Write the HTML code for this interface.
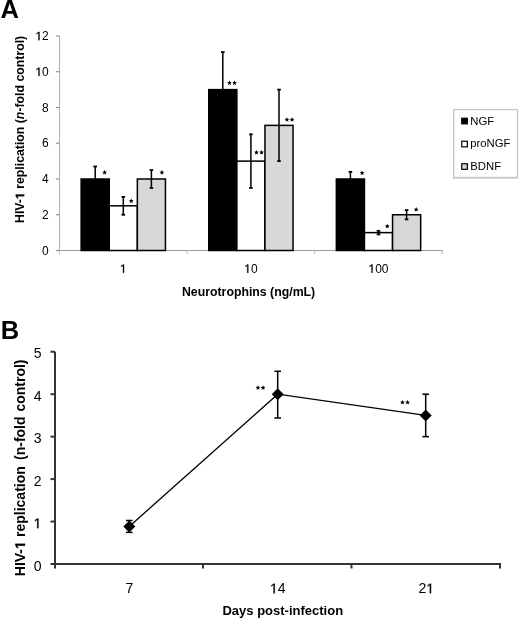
<!DOCTYPE html>
<html><head><meta charset="utf-8"><style>
html,body{margin:0;padding:0;background:#fff;}
body{width:520px;height:621px;overflow:hidden;position:relative;filter:grayscale(1);}
svg{position:absolute;left:0;top:0;}
text{font-family:"Liberation Sans",sans-serif;fill:#000;white-space:pre;}
.lab{font-size:25.5px;font-weight:bold;}
.tA{font-size:12px;}
.tB{font-size:14px;}
.alA{font-size:12.3px;font-weight:bold;}
.alB{font-size:13px;font-weight:bold;}
.alB2{font-size:14px;font-weight:bold;}
.lg{font-size:11.3px;}
.axB{stroke:#333;stroke-width:2;}
.eb{stroke:#000;stroke-width:1.5;}
.cap{stroke:#000;stroke-width:1.8;}
.capB{stroke:#000;stroke-width:1.5;}
</style></head><body>
<svg width="520" height="621" viewBox="0 0 520 621">
<text id="t0" x="0.5" y="18" class="lab" text-anchor="start">A</text>
<line x1="59.5" y1="36" x2="59.5" y2="251" stroke="#b0b0b0" stroke-width="1"/>
<line x1="56" y1="250.5" x2="59.5" y2="250.5" stroke="#8a8a8a" stroke-width="1.1"/>
<text id="t1" x="48.8" y="254.7" class="tA" text-anchor="end">0</text>
<line x1="56" y1="214.75" x2="59.5" y2="214.75" stroke="#8a8a8a" stroke-width="1.1"/>
<text id="t2" x="48.8" y="218.95" class="tA" text-anchor="end">2</text>
<line x1="56" y1="179" x2="59.5" y2="179" stroke="#8a8a8a" stroke-width="1.1"/>
<text id="t3" x="48.8" y="183.2" class="tA" text-anchor="end">4</text>
<line x1="56" y1="143.25" x2="59.5" y2="143.25" stroke="#8a8a8a" stroke-width="1.1"/>
<text id="t4" x="48.8" y="147.45" class="tA" text-anchor="end">6</text>
<line x1="56" y1="107.5" x2="59.5" y2="107.5" stroke="#8a8a8a" stroke-width="1.1"/>
<text id="t5" x="48.8" y="111.7" class="tA" text-anchor="end">8</text>
<line x1="56" y1="71.75" x2="59.5" y2="71.75" stroke="#8a8a8a" stroke-width="1.1"/>
<text id="t6" x="48.8" y="75.95" class="tA" text-anchor="end"> 0</text><path d="M38.46,75.95 L38.46,68.7 L36.59,70.03 L36.59,69.04 L38.55,67.69 L39.52,67.69 L39.52,75.95Z" stroke="#000" stroke-width="0.3"/>
<line x1="56" y1="36" x2="59.5" y2="36" stroke="#8a8a8a" stroke-width="1.1"/>
<text id="t7" x="48.8" y="40.2" class="tA" text-anchor="end"> 2</text><path d="M38.46,40.2 L38.46,32.95 L36.59,34.28 L36.59,33.29 L38.55,31.94 L39.52,31.94 L39.52,40.2Z" stroke="#000" stroke-width="0.3"/>
<line x1="59.0" y1="250.5" x2="442.8" y2="250.5" stroke="#9a9a9a" stroke-width="1"/>
<line x1="59.5" y1="250.5" x2="59.5" y2="254" stroke="#b8b8b8" stroke-width="1"/>
<line x1="187.1" y1="250.5" x2="187.1" y2="254" stroke="#b8b8b8" stroke-width="1"/>
<line x1="314.7" y1="250.5" x2="314.7" y2="254" stroke="#b8b8b8" stroke-width="1"/>
<line x1="442.3" y1="250.5" x2="442.3" y2="254" stroke="#b8b8b8" stroke-width="1"/>
<text id="t8" x="123.3" y="272.8" class="tA" text-anchor="middle"> </text><path d="M122.97,272.8 L122.97,265.55 L121.11,266.88 L121.11,265.89 L123.06,264.54 L124.03,264.54 L124.03,272.8Z" stroke="#000" stroke-width="0.3"/>
<text id="t9" x="250.9" y="272.8" class="tA" text-anchor="middle"> 0</text><path d="M247.24,272.8 L247.24,265.55 L245.37,266.88 L245.37,265.89 L247.33,264.54 L248.3,264.54 L248.3,272.8Z" stroke="#000" stroke-width="0.3"/>
<text id="t10" x="378.5" y="272.8" class="tA" text-anchor="middle"> 00</text><path d="M371.5,272.8 L371.5,265.55 L369.64,266.88 L369.64,265.89 L371.59,264.54 L372.56,264.54 L372.56,272.8Z" stroke="#000" stroke-width="0.3"/>
<rect x="81.15" y="179" width="28.1" height="71.5" fill="#000" stroke="#000" stroke-width="1.5"/>
<rect x="109.25" y="205.81" width="28.1" height="44.69" fill="#fff" stroke="#000" stroke-width="1.5"/>
<rect x="137.35" y="179" width="28.1" height="71.5" fill="#d8d8d8" stroke="#000" stroke-width="1.5"/>
<rect x="208.75" y="89.62" width="28.1" height="160.88" fill="#000" stroke="#000" stroke-width="1.5"/>
<rect x="236.85" y="161.12" width="28.1" height="89.38" fill="#fff" stroke="#000" stroke-width="1.5"/>
<rect x="264.95" y="125.38" width="28.1" height="125.12" fill="#d8d8d8" stroke="#000" stroke-width="1.5"/>
<rect x="336.35" y="179" width="28.1" height="71.5" fill="#000" stroke="#000" stroke-width="1.5"/>
<rect x="364.45" y="232.62" width="28.1" height="17.88" fill="#fff" stroke="#000" stroke-width="1.5"/>
<rect x="392.55" y="214.75" width="28.1" height="35.75" fill="#d8d8d8" stroke="#000" stroke-width="1.5"/>
<line x1="95.2" y1="166.49" x2="95.2" y2="191.51" class="eb"/>
<line x1="93.4" y1="166.49" x2="97" y2="166.49" class="cap"/>
<line x1="93.4" y1="191.51" x2="97" y2="191.51" class="cap"/>
<line x1="123.3" y1="196.88" x2="123.3" y2="214.75" class="eb"/>
<line x1="121.5" y1="196.88" x2="125.1" y2="196.88" class="cap"/>
<line x1="121.5" y1="214.75" x2="125.1" y2="214.75" class="cap"/>
<line x1="151.4" y1="170.06" x2="151.4" y2="187.94" class="eb"/>
<line x1="149.6" y1="170.06" x2="153.2" y2="170.06" class="cap"/>
<line x1="149.6" y1="187.94" x2="153.2" y2="187.94" class="cap"/>
<line x1="222.8" y1="52.09" x2="222.8" y2="127.16" class="eb"/>
<line x1="221" y1="52.09" x2="224.6" y2="52.09" class="cap"/>
<line x1="221" y1="127.16" x2="224.6" y2="127.16" class="cap"/>
<line x1="250.9" y1="134.31" x2="250.9" y2="187.94" class="eb"/>
<line x1="249.1" y1="134.31" x2="252.7" y2="134.31" class="cap"/>
<line x1="249.1" y1="187.94" x2="252.7" y2="187.94" class="cap"/>
<line x1="279" y1="89.62" x2="279" y2="161.12" class="eb"/>
<line x1="277.2" y1="89.62" x2="280.8" y2="89.62" class="cap"/>
<line x1="277.2" y1="161.12" x2="280.8" y2="161.12" class="cap"/>
<line x1="350.4" y1="171.85" x2="350.4" y2="186.15" class="eb"/>
<line x1="348.6" y1="171.85" x2="352.2" y2="171.85" class="cap"/>
<line x1="348.6" y1="186.15" x2="352.2" y2="186.15" class="cap"/>
<line x1="378.5" y1="230.84" x2="378.5" y2="234.41" class="eb"/>
<line x1="376.7" y1="230.84" x2="380.3" y2="230.84" class="cap"/>
<line x1="376.7" y1="234.41" x2="380.3" y2="234.41" class="cap"/>
<line x1="406.6" y1="210.1" x2="406.6" y2="219.4" class="eb"/>
<line x1="404.8" y1="210.1" x2="408.4" y2="210.1" class="cap"/>
<line x1="404.8" y1="219.4" x2="408.4" y2="219.4" class="cap"/>
<polygon points="104.6,170 105.28,171.57 106.98,171.73 105.69,172.86 106.07,174.52 104.6,173.65 103.13,174.52 103.51,172.86 102.22,171.73 103.92,171.57" fill="#000"/>
<polygon points="131.25,198.5 131.93,200.07 133.63,200.23 132.34,201.36 132.72,203.02 131.25,202.15 129.78,203.02 130.16,201.36 128.87,200.23 130.57,200.07" fill="#000"/>
<polygon points="161.9,170 162.58,171.57 164.28,171.73 162.99,172.86 163.37,174.52 161.9,173.65 160.43,174.52 160.81,172.86 159.52,171.73 161.22,171.57" fill="#000"/>
<polygon points="229.45,80.5 230.13,82.07 231.83,82.23 230.54,83.36 230.92,85.02 229.45,84.15 227.98,85.02 228.36,83.36 227.07,82.23 228.77,82.07" fill="#000"/>
<polygon points="234.55,80.5 235.23,82.07 236.93,82.23 235.64,83.36 236.02,85.02 234.55,84.15 233.08,85.02 233.46,83.36 232.17,82.23 233.87,82.07" fill="#000"/>
<polygon points="256.45,150 257.13,151.57 258.83,151.73 257.54,152.86 257.92,154.52 256.45,153.65 254.98,154.52 255.36,152.86 254.07,151.73 255.77,151.57" fill="#000"/>
<polygon points="261.55,150 262.23,151.57 263.93,151.73 262.64,152.86 263.02,154.52 261.55,153.65 260.08,154.52 260.46,152.86 259.17,151.73 260.87,151.57" fill="#000"/>
<polygon points="286.95,117.2 287.63,118.77 289.33,118.93 288.04,120.06 288.42,121.72 286.95,120.85 285.48,121.72 285.86,120.06 284.57,118.93 286.27,118.77" fill="#000"/>
<polygon points="292.05,117.2 292.73,118.77 294.43,118.93 293.14,120.06 293.52,121.72 292.05,120.85 290.58,121.72 290.96,120.06 289.67,118.93 291.37,118.77" fill="#000"/>
<polygon points="362.1,170.5 362.78,172.07 364.48,172.23 363.19,173.36 363.57,175.02 362.1,174.15 360.63,175.02 361.01,173.36 359.72,172.23 361.42,172.07" fill="#000"/>
<polygon points="387.3,223.8 387.98,225.37 389.68,225.53 388.39,226.66 388.77,228.32 387.3,227.45 385.83,228.32 386.21,226.66 384.92,225.53 386.62,225.37" fill="#000"/>
<polygon points="416.2,207.1 416.88,208.67 418.58,208.83 417.29,209.96 417.67,211.62 416.2,210.75 414.73,211.62 415.11,209.96 413.82,208.83 415.52,208.67" fill="#000"/>
<polygon points="257.95,385.3 258.63,386.87 260.33,387.03 259.04,388.16 259.42,389.82 257.95,388.95 256.48,389.82 256.86,388.16 255.57,387.03 257.27,386.87" fill="#000"/>
<polygon points="263.05,385.3 263.73,386.87 265.43,387.03 264.14,388.16 264.52,389.82 263.05,388.95 261.58,389.82 261.96,388.16 260.67,387.03 262.37,386.87" fill="#000"/>
<polygon points="402.45,399.9 403.13,401.47 404.83,401.63 403.54,402.76 403.92,404.42 402.45,403.55 400.98,404.42 401.36,402.76 400.07,401.63 401.77,401.47" fill="#000"/>
<polygon points="407.55,399.9 408.23,401.47 409.93,401.63 408.64,402.76 409.02,404.42 407.55,403.55 406.08,404.42 406.46,402.76 405.17,401.63 406.87,401.47" fill="#000"/>
<g transform="translate(24.2,129.4) rotate(-90)"><text id="t11" x="0" y="0" class="alA" text-anchor="middle">HIV-  replication (<tspan font-style="italic">n</tspan>-fold control)</text><path d="M-66.82,0 L-66.82,-7.03 L-68.85,-5.76 L-68.85,-7.09 L-66.73,-8.46 L-65.14,-8.46 L-65.14,0Z" stroke="#000" stroke-width="0.3"/></g>
<text id="t12" x="248.6" y="296.2" class="alA" text-anchor="middle">Neurotrophins (ng/mL)</text>
<rect x="453.7" y="109.6" width="63.8" height="67.9" fill="#fff" stroke="#c4c4c4" stroke-width="1.3"/>
<line x1="453" y1="178.3" x2="518.4" y2="178.3" stroke="#d4d4d4" stroke-width="1"/>
<rect x="461.75" y="118.25" width="5.6" height="5.6" fill="#000" stroke="#000" stroke-width="1.2"/>
<text id="t13" x="470.3" y="124.5" class="lg" text-anchor="start">NGF</text>
<rect x="461.75" y="141.25" width="5.6" height="5.6" fill="#fff" stroke="#000" stroke-width="1.2"/>
<text id="t14" x="470.3" y="147.3" class="lg" text-anchor="start">proNGF</text>
<rect x="461.75" y="163.75" width="5.6" height="5.6" fill="#d8d8d8" stroke="#000" stroke-width="1.2"/>
<text id="t15" x="470.3" y="169.5" class="lg" text-anchor="start">BDNF</text>
<text id="t16" x="0.7" y="339" class="lab" text-anchor="start">B</text>
<line x1="55" y1="351.75" x2="55" y2="565" class="axB"/>
<line x1="50.5" y1="564" x2="55" y2="564" class="axB"/>
<text id="t17" x="41.5" y="570.6" class="tB" text-anchor="end">0</text>
<line x1="50.5" y1="521.55" x2="55" y2="521.55" class="axB"/>
<text id="t18" x="41.5" y="528.15" class="tB" text-anchor="end"> </text><path d="M37.22,528.15 L37.22,519.69 L35.05,521.25 L35.05,520.08 L37.33,518.52 L38.46,518.52 L38.46,528.15Z" stroke="#000" stroke-width="0.3"/>
<line x1="50.5" y1="479.1" x2="55" y2="479.1" class="axB"/>
<text id="t19" x="41.5" y="485.7" class="tB" text-anchor="end">2</text>
<line x1="50.5" y1="436.65" x2="55" y2="436.65" class="axB"/>
<text id="t20" x="41.5" y="443.25" class="tB" text-anchor="end">3</text>
<line x1="50.5" y1="394.2" x2="55" y2="394.2" class="axB"/>
<text id="t21" x="41.5" y="400.8" class="tB" text-anchor="end">4</text>
<line x1="50.5" y1="351.75" x2="55" y2="351.75" class="axB"/>
<text id="t22" x="41.5" y="358.35" class="tB" text-anchor="end">5</text>
<line x1="54" y1="564.0" x2="501" y2="564.0" class="axB"/>
<line x1="55" y1="564.0" x2="55" y2="568.5" class="axB"/>
<line x1="203" y1="564.0" x2="203" y2="568.5" class="axB"/>
<line x1="351.5" y1="564.0" x2="351.5" y2="568.5" class="axB"/>
<line x1="500" y1="564.0" x2="500" y2="568.5" class="axB"/>
<text id="t23" x="129.3" y="593.3" class="tB" text-anchor="middle">7</text>
<text id="t24" x="277.8" y="593.3" class="tB" text-anchor="middle"> 4</text><path d="M273.53,593.3 L273.53,584.84 L271.36,586.4 L271.36,585.23 L273.63,583.67 L274.77,583.67 L274.77,593.3Z" stroke="#000" stroke-width="0.3"/>
<text id="t25" x="426.3" y="593.3" class="tB" text-anchor="middle">2 </text><path d="M429.81,593.3 L429.81,584.84 L427.64,586.4 L427.64,585.23 L429.92,583.67 L431.05,583.67 L431.05,593.3Z" stroke="#000" stroke-width="0.3"/>
<text id="t26" x="282.8" y="615" class="alB" text-anchor="middle">Days post-infection</text>
<g transform="translate(25,576.2) rotate(-90)"><text id="t27" x="0" y="0" class="alB2" text-anchor="start">HIV- </text><path d="M30.49,0 L30.49,-8 L28.18,-6.56 L28.18,-8.07 L30.59,-9.63 L32.41,-9.63 L32.41,0Z" stroke="#000" stroke-width="0.3"/></g>
<g transform="translate(25,537) rotate(-90)"><text id="t28" x="0" y="0" class="alB2" text-anchor="start">replication</text></g>
<g transform="translate(25,460) rotate(-90)"><text id="t29" x="0" y="0" class="alB2" text-anchor="start">(n-fold</text></g>
<g transform="translate(25,411.6) rotate(-90)"><text id="t30" x="0" y="0" class="alB2" text-anchor="start">control)</text></g>
<polyline points="129.3,526.43 277.7,394.2 425.7,415.42" fill="none" stroke="#000" stroke-width="1.3"/>
<line x1="129.3" y1="520.49" x2="129.3" y2="532.37" class="eb"/>
<line x1="126" y1="520.49" x2="132.6" y2="520.49" class="capB"/>
<line x1="126" y1="532.37" x2="132.6" y2="532.37" class="capB"/>
<polygon points="129.3,520.43 135.3,526.43 129.3,532.43 123.3,526.43" fill="#000"/>
<line x1="277.7" y1="371.28" x2="277.7" y2="417.97" class="eb"/>
<line x1="274.4" y1="371.28" x2="281" y2="371.28" class="capB"/>
<line x1="274.4" y1="417.97" x2="281" y2="417.97" class="capB"/>
<polygon points="277.7,388.2 283.7,394.2 277.7,400.2 271.7,394.2" fill="#000"/>
<line x1="425.7" y1="394.2" x2="425.7" y2="436.65" class="eb"/>
<line x1="422.4" y1="394.2" x2="429" y2="394.2" class="capB"/>
<line x1="422.4" y1="436.65" x2="429" y2="436.65" class="capB"/>
<polygon points="425.7,409.42 431.7,415.42 425.7,421.42 419.7,415.42" fill="#000"/>
</svg>
</body></html>
